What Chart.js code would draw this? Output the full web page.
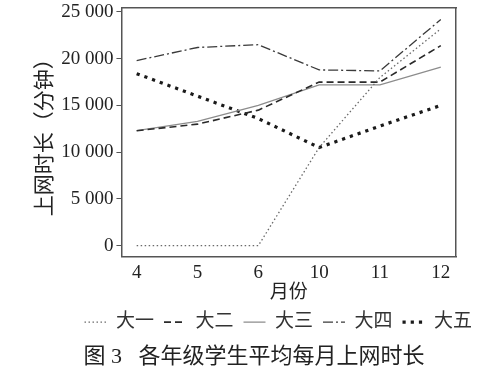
<!DOCTYPE html>
<html>
<head>
<meta charset="utf-8">
<script src="https://cdn.jsdelivr.net/npm/chart.js@4"></script>
<style>
  html, body { margin: 0; padding: 0; background: #fff; }
  #wrap { width: 500px; height: 372px; }
</style>
</head>
<body>
<div id="wrap"><canvas id="myChart" width="500" height="372"></canvas></div>
<script>
// months on the x axis
var months = ['4', '5', '6', '10', '11', '12'];
var yTicks = [0, 5000, 10000, 15000, 20000, 25000];

// average online minutes per month, by grade
var grade1 = [0, 0, 0, 10500, 18000, 23200];
var grade2 = [12300, 13000, 14500, 17500, 17500, 21400];
var grade3 = [12300, 13300, 15000, 17200, 17200, 19100];
var grade4 = [19800, 21200, 21500, 18800, 18700, 24200];
var grade5 = [18400, 16000, 13600, 10500, 12800, 15000];

var serif = "'Liberation Serif', 'Noto Sans CJK SC', serif";

function pts(arr) {
    return arr.map(function (v, i) { return {x: i, y: v}; });
}

function fmt(v) {
    return v.toString().replace(/\B(?=(\d{3})+(?!\d))/g, ' ');
}

var ctx = document.getElementById('myChart').getContext('2d');
var myChart = new Chart(ctx, {
    type: 'line',
    data: {
        datasets: [{
            label: '大一',
            data: pts(grade1),
            borderColor: '#6a6a6a',
            borderWidth: 1.3,
            borderDash: [1.5, 2.5]
        },
        {
            label: '大二',
            data: pts(grade2),
            borderColor: '#2a2a2a',
            borderWidth: 1.6,
            borderDash: [7, 4]
        },
        {
            label: '大三',
            data: pts(grade3),
            borderColor: '#8c8c8c',
            borderWidth: 1.3
        },
        {
            label: '大四',
            data: pts(grade4),
            borderColor: '#3a3a3a',
            borderWidth: 1.3,
            borderDash: [10, 3, 2, 3]
        },
        {
            label: '大五',
            data: pts(grade5),
            borderColor: '#1a1a1a',
            borderWidth: 3.2,
            borderDash: [3.2, 5]
        }]
    },
    options: {
        responsive: false,
        animation: false,
        layout: { padding: { left: 26, right: 18, top: 0, bottom: 0 } },
        elements: {
            point: { radius: 0, pointStyle: 'line' },
            line: { tension: 0, fill: false }
        },
        plugins: {
            legend: {
                position: 'bottom',
                align: 'end',
                labels: {
                    usePointStyle: true,
                    pointStyle: 'line',
                    pointStyleWidth: 22,
                    color: '#333',
                    padding: 10,
                    font: { family: serif, size: 19 },
                    generateLabels: function (chart) {
                        var items = Chart.defaults.plugins.legend.labels.generateLabels(chart);
                        items.forEach(function (it) {
                            var ds = chart.data.datasets[it.datasetIndex];
                            it.lineDash = ds.borderDash || [];
                            it.lineWidth = ds.borderWidth;
                            it.strokeStyle = ds.borderColor;
                        });
                        return items;
                    }
                }
            },
            title: {
                display: true,
                position: 'bottom',
                text: '图 3   各年级学生平均每月上网时长',
                color: '#222',
                padding: { top: 2, bottom: 2 },
                font: { family: serif, size: 22, weight: 'normal' }
            },
            tooltip: { enabled: false }
        },
        scales: {
            x: {
                type: 'linear',
                min: -0.25,
                max: 5.25,
                afterBuildTicks: function (s) {
                    s.ticks = months.map(function (m, i) { return {value: i}; });
                },
                ticks: {
                    color: '#222',
                    padding: 3,
                    font: { family: serif, size: 19, lineHeight: 0.85 },
                    callback: function (v) { return months[v]; }
                },
                grid: { display: false, drawOnChartArea: false, drawTicks: true, tickLength: 5, tickColor: '#555' },
                border: { display: true, color: '#555', width: 1.5 },
                title: {
                    display: true,
                    text: '月份',
                    color: '#222',
                    padding: 0,
                    font: { family: serif, size: 19, lineHeight: 1 }
                }
            },
            y: {
                type: 'linear',
                min: -1150,
                max: 25400,
                afterBuildTicks: function (s) {
                    s.ticks = yTicks.map(function (v) { return {value: v}; });
                },
                ticks: {
                    color: '#222',
                    padding: 3,
                    font: { family: serif, size: 19, lineHeight: 0.55 },
                    callback: function (v) { return fmt(v); }
                },
                grid: { display: true, drawOnChartArea: false, drawTicks: true, tickLength: 5, tickColor: '#555' },
                border: { display: true, color: '#555', width: 1.5 },
                title: {
                    display: true,
                    text: '上网时长（分钟）',
                    color: '#222',
                    padding: { top: 7, bottom: 0 },
                    font: { family: serif, size: 21 }
                }
            },
            x2: {
                position: 'top',
                type: 'linear',
                min: -0.25,
                max: 5.25,
                afterFit: function (s) { s.height = 0; },
                ticks: { display: false },
                grid: { display: false },
                border: { display: true, color: '#555', width: 1.5 }
            },
            y2: {
                position: 'right',
                type: 'linear',
                min: -1150,
                max: 25400,
                afterFit: function (s) { s.width = 26; },
                ticks: { display: false },
                grid: { display: false },
                border: { display: true, color: '#555', width: 1.5 }
            }
        }
    }
});
</script>
</body>
</html>
